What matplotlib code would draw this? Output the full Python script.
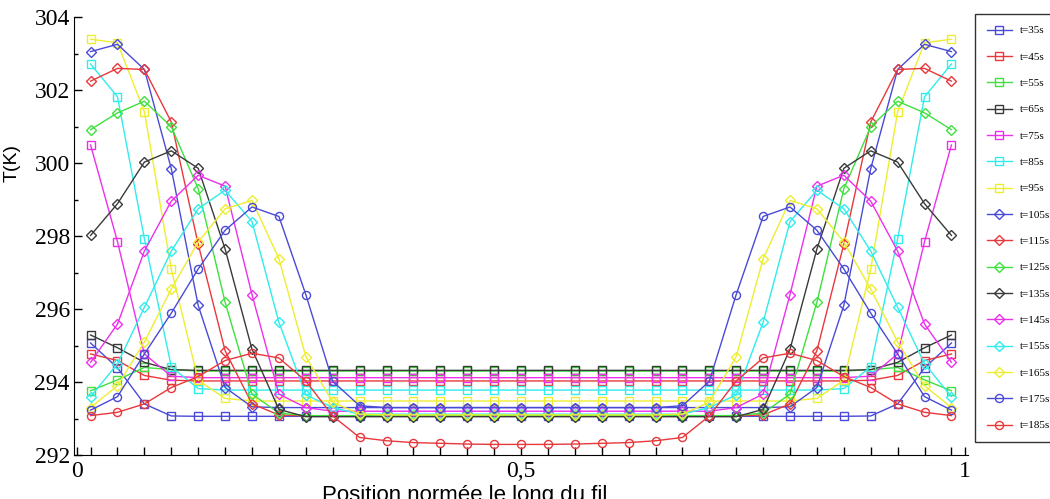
import numpy as np
import matplotlib
matplotlib.use('Agg')
import matplotlib.pyplot as plt

# positions des mailles le long du fil (33 noeuds, centres des cellules)
n_pts = 33
position = (np.arange(n_pts) + 0.5) / n_pts

labels = ['t=35s', 't=45s', 't=55s', 't=65s', 't=75s', 't=85s', 't=95s', 't=105s',
          't=115s', 't=125s', 't=135s', 't=145s', 't=155s', 't=165s', 't=175s', 't=185s']

# temperatures (K)
T_35 = [295.07, 294.39, 293.40, 293.07, 293.06, 293.06, 293.06, 293.06, 293.06, 293.06, 293.06,
        293.06, 293.06, 293.06, 293.06, 293.06, 293.06, 293.06, 293.06, 293.06, 293.06, 293.06,
        293.06, 293.06, 293.06, 293.06, 293.06, 293.06, 293.06, 293.07, 293.40, 294.39, 295.07]
T_45 = [294.77, 294.59, 294.18, 294.05, 294.03, 294.03, 294.03, 294.03, 294.03, 294.03, 294.03,
        294.03, 294.03, 294.03, 294.03, 294.03, 294.03, 294.03, 294.03, 294.03, 294.03, 294.03,
        294.03, 294.03, 294.03, 294.03, 294.03, 294.03, 294.03, 294.05, 294.18, 294.59, 294.77]
T_55 = [293.76, 294.06, 294.40, 294.34, 294.30, 294.30, 294.30, 294.30, 294.30, 294.30, 294.30,
        294.30, 294.30, 294.30, 294.30, 294.30, 294.30, 294.30, 294.30, 294.30, 294.30, 294.30,
        294.30, 294.30, 294.30, 294.30, 294.30, 294.30, 294.30, 294.34, 294.40, 294.06, 293.76]
T_65 = [295.29, 294.94, 294.54, 294.34, 294.32, 294.32, 294.32, 294.32, 294.32, 294.32, 294.32,
        294.32, 294.32, 294.32, 294.32, 294.32, 294.32, 294.32, 294.32, 294.32, 294.32, 294.32,
        294.32, 294.32, 294.32, 294.32, 294.32, 294.32, 294.32, 294.34, 294.54, 294.94, 295.29]
T_75 = [300.50, 297.85, 294.77, 294.16, 294.12, 294.12, 294.12, 294.12, 294.12, 294.12, 294.12,
        294.12, 294.12, 294.12, 294.12, 294.12, 294.12, 294.12, 294.12, 294.12, 294.12, 294.12,
        294.12, 294.12, 294.12, 294.12, 294.12, 294.12, 294.12, 294.16, 294.77, 297.85, 300.50]
T_85 = [302.72, 301.82, 297.93, 294.42, 293.82, 293.78, 293.78, 293.78, 293.78, 293.78, 293.78,
        293.78, 293.78, 293.78, 293.78, 293.78, 293.78, 293.78, 293.78, 293.78, 293.78, 293.78,
        293.78, 293.78, 293.78, 293.78, 293.78, 293.78, 293.82, 294.42, 297.93, 301.82, 302.72]
T_95 = [303.40, 303.30, 301.41, 297.10, 294.05, 293.55, 293.48, 293.48, 293.48, 293.48, 293.48,
        293.48, 293.48, 293.48, 293.48, 293.48, 293.48, 293.48, 293.48, 293.48, 293.48, 293.48,
        293.48, 293.48, 293.48, 293.48, 293.48, 293.55, 294.05, 297.10, 301.41, 303.30, 303.40]
T_105 = [303.06, 303.26, 302.57, 299.85, 296.10, 293.85, 293.32, 293.30, 293.30, 293.30, 293.30,
         293.30, 293.30, 293.30, 293.30, 293.30, 293.30, 293.30, 293.30, 293.30, 293.30, 293.30,
         293.30, 293.30, 293.30, 293.30, 293.32, 293.85, 296.10, 299.85, 302.57, 303.26, 303.06]
T_115 = [302.25, 302.60, 302.57, 301.13, 297.78, 294.86, 293.40, 293.10, 293.07, 293.07, 293.07,
         293.07, 293.07, 293.07, 293.07, 293.07, 293.07, 293.07, 293.07, 293.07, 293.07, 293.07,
         293.07, 293.07, 293.07, 293.10, 293.40, 294.86, 297.78, 301.13, 302.57, 302.60, 302.25]
T_125 = [300.92, 301.38, 301.70, 301.00, 299.30, 296.19, 293.67, 293.15, 293.08, 293.08, 293.08,
         293.08, 293.08, 293.08, 293.08, 293.08, 293.08, 293.08, 293.08, 293.08, 293.08, 293.08,
         293.08, 293.08, 293.08, 293.15, 293.67, 296.19, 299.30, 301.00, 301.70, 301.38, 300.92]
T_135 = [298.02, 298.89, 300.03, 300.34, 299.86, 297.65, 294.90, 293.25, 293.05, 293.05, 293.05,
         293.05, 293.05, 293.05, 293.05, 293.05, 293.05, 293.05, 293.05, 293.05, 293.05, 293.05,
         293.05, 293.05, 293.05, 293.25, 294.90, 297.65, 299.86, 300.34, 300.03, 298.89, 298.02]
T_145 = [294.54, 295.59, 297.59, 298.96, 299.67, 299.37, 296.40, 293.67, 293.30, 293.20, 293.20,
         293.20, 293.20, 293.20, 293.20, 293.20, 293.20, 293.20, 293.20, 293.20, 293.20, 293.20,
         293.20, 293.20, 293.30, 293.67, 296.40, 299.37, 299.67, 298.96, 297.59, 295.59, 294.54]
T_155 = [293.60, 294.50, 296.05, 297.59, 298.75, 299.26, 298.40, 295.64, 293.65, 293.30, 293.12,
         293.12, 293.12, 293.12, 293.12, 293.12, 293.12, 293.12, 293.12, 293.12, 293.12, 293.12,
         293.12, 293.30, 293.65, 295.64, 298.40, 299.26, 298.75, 297.59, 296.05, 294.50, 293.60]
T_165 = [293.30, 293.90, 295.10, 296.55, 297.84, 298.75, 298.98, 297.38, 294.70, 293.45, 293.12,
         293.10, 293.10, 293.10, 293.10, 293.10, 293.10, 293.10, 293.10, 293.10, 293.10, 293.10,
         293.12, 293.45, 294.70, 297.38, 298.98, 298.75, 297.84, 296.55, 295.10, 293.90, 293.30]
T_175 = [293.23, 293.60, 294.77, 295.89, 297.10, 298.16, 298.80, 298.54, 296.40, 294.02, 293.35,
         293.30, 293.30, 293.30, 293.30, 293.30, 293.30, 293.30, 293.30, 293.30, 293.30, 293.30,
         293.35, 294.02, 296.40, 298.54, 298.80, 298.16, 297.10, 295.89, 294.77, 293.60, 293.23]
T_185 = [293.08, 293.17, 293.40, 293.85, 294.15, 294.59, 294.79, 294.66, 294.03, 293.07, 292.48,
         292.39, 292.34, 292.32, 292.30, 292.29, 292.29, 292.29, 292.30, 292.32, 292.34, 292.39,
         292.48, 293.07, 294.03, 294.66, 294.79, 294.59, 294.15, 293.85, 293.40, 293.17, 293.08]

series = [T_35, T_45, T_55, T_65, T_75, T_85, T_95, T_105,
          T_115, T_125, T_135, T_145, T_155, T_165, T_175, T_185]

# couleurs et symboles facon xmgrace
couleurs = ['#4a4ad6', '#e8383c', '#3fe03f', '#3a3a3a', '#ec30ec', '#30ecec', '#eeee30']
symboles = ['s'] * 7 + ['D'] * 7 + ['o'] * 2
tailles = {'s': 6.2, 'D': 5.2, 'o': 5.8}

fig = plt.figure(figsize=(10.5, 4.99), dpi=100)
ax = fig.add_axes([0.0705, 0.0882, 0.8514, 0.8771])

handles = []
for k, T in enumerate(series):
    m = symboles[k]
    h, = ax.plot(position, T, color=couleurs[k % 7], lw=1.0, marker=m,
                 markersize=tailles[m], markerfacecolor='none',
                 markeredgewidth=1.0, label=labels[k])
    handles.append(h)

ax.set_xlim(-0.0035, 1.0035)
ax.set_ylim(292, 304)
ax.spines['top'].set_visible(False)
ax.spines['right'].set_visible(False)

ax.set_xticks([0, 0.5, 1])
ax.set_xticklabels(['0', '0,5', '1'])
ax.set_xticks(position, minor=True)
ax.set_yticks(np.arange(292, 305, 2))
ax.set_yticks(np.arange(293, 305, 2), minor=True)

ax.tick_params(axis='both', which='both', direction='in', width=1.0)
ax.tick_params(axis='x', which='both', length=6, pad=4)
ax.tick_params(axis='y', which='major', length=6, pad=3)
ax.tick_params(axis='y', which='minor', length=3)
for lab in ax.get_xticklabels() + ax.get_yticklabels():
    lab.set_family('Liberation Serif')
    lab.set_fontsize(17)

ax.set_ylabel('T(K)', family='Liberation Sans', fontsize=14)
ax.yaxis.set_label_coords(-0.06, 0.667)
ax.set_xlabel('Position normée le long du fil', family='Liberation Sans', fontsize=16)
ax.xaxis.set_label_coords((465 - 74) / 894, -0.068)

leg = fig.legend(handles, labels, loc='upper left', bbox_to_anchor=(975 / 1050, 1 - 14 / 499),
                 prop={'family': 'Liberation Serif', 'size': 8}, frameon=True,
                 fancybox=False, borderaxespad=0, labelspacing=1.49, borderpad=1.05,
                 handlelength=2.3, handletextpad=0.7, numpoints=1)
leg.get_frame().set_edgecolor('black')
leg.get_frame().set_linewidth(1.0)

fig.savefig('out.png', dpi=100)
